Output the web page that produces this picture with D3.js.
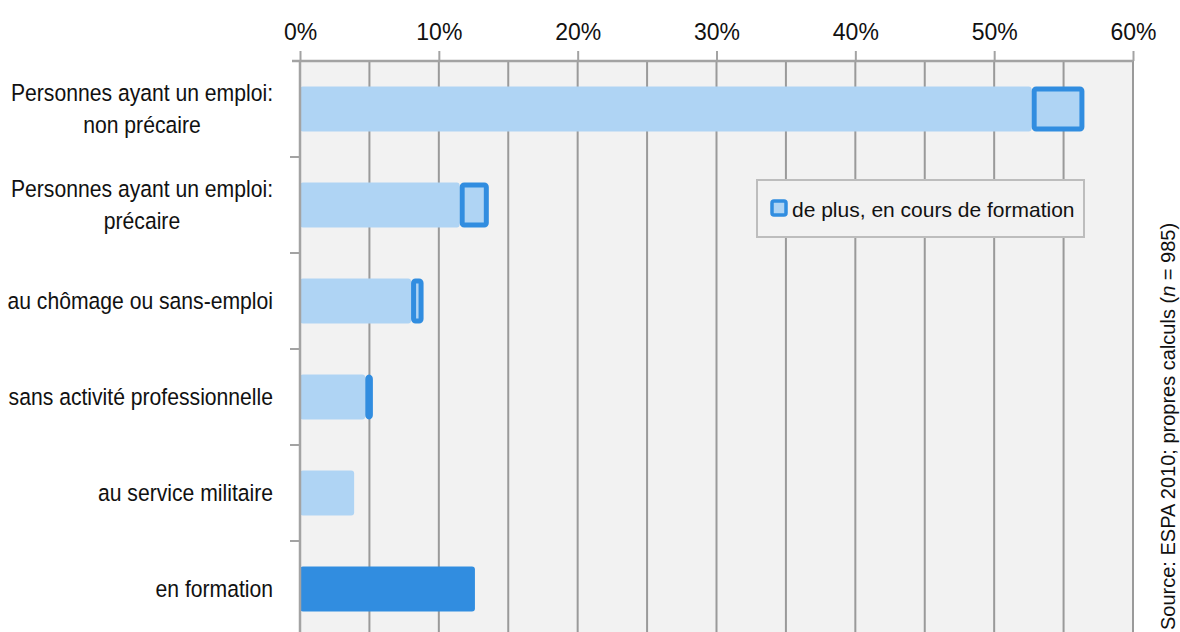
<!DOCTYPE html>
<html>
<head>
<meta charset="utf-8">
<script src="https://cdn.jsdelivr.net/npm/d3@7"></script>
<style>
  body { margin: 0; background: #fff; }
  text { font-family: "Liberation Sans", Arial, sans-serif; fill: #111; }
</style>
</head>
<body>
<div id="chart"></div>
<script>
// categories (each entry = lines of the label)
const categories = [
    ["Personnes ayant un emploi:", "non précaire"],
    ["Personnes ayant un emploi:", "précaire"],
    ["au chômage ou sans-emploi"],
    ["sans activité professionnelle"],
    ["au service militaire"],
    ["en formation"]
];
// share of respondents (%)
const baseValues = [52.7, 11.5, 8.0, 4.7, 3.9, 0];
// "de plus, en cours de formation" (%)
const trainingValues = [3.8, 2.1, 0.9, 0.55, 0, 0];
// "en formation" (%)
const formationValues = [0, 0, 0, 0, 0, 12.6];
const xTicks = [0, 10, 20, 30, 40, 50, 60];
const gridTicks = [5, 10, 15, 20, 25, 30, 35, 40, 45, 50, 55, 60];
const legendLabel = "de plus, en cours de formation";

const svgAttr = { width: 1180, height: 632 };
const plot = { left: 300, right: 1133, top: 61, bottom: 637 };
const colors = {
    light: "#afd4f4",
    dark: "#318de0",
    plotBg: "#f2f2f2",
    grid: "#9a9a9a",
    axis: "#a3a3a3"
};
const boxStroke = 5;

const svg = d3.select("#chart")
    .append("svg")
    .attr("width", svgAttr.width)
    .attr("height", svgAttr.height);

const x = d3.scaleLinear().domain([0, 60]).range([plot.left, plot.right]);
const y = d3.scaleBand()
    .domain(d3.range(categories.length))
    .range([plot.top, plot.bottom])
    .paddingInner(0.53)
    .paddingOuter(0.265);

// plot background
svg.append("rect")
    .attr("x", plot.left).attr("y", plot.top)
    .attr("width", plot.right - plot.left)
    .attr("height", plot.bottom - plot.top)
    .attr("fill", colors.plotBg);

// vertical gridlines every 5%
svg.append("g")
    .selectAll("line")
    .data(gridTicks)
    .join("line")
    .attr("x1", d => x(d)).attr("x2", d => x(d))
    .attr("y1", plot.top).attr("y2", plot.bottom)
    .attr("stroke", colors.grid)
    .attr("stroke-width", 2);

// bars
const bars = svg.append("g");
bars.selectAll("rect.base")
    .data(baseValues)
    .join("rect")
    .attr("class", "base")
    .attr("x", x(0))
    .attr("y", (d, i) => y(i))
    .attr("width", d => x(d) - x(0))
    .attr("height", y.bandwidth())
    .attr("rx", 3)
    .attr("fill", colors.light);

bars.selectAll("rect.training")
    .data(trainingValues.map((v, i) => ({ v, i })).filter(d => d.v > 0))
    .join("rect")
    .attr("class", "training")
    .attr("x", d => x(baseValues[d.i]) + boxStroke / 2)
    .attr("y", d => y(d.i) + boxStroke / 2)
    .attr("width", d => Math.max(0, x(baseValues[d.i] + d.v) - x(baseValues[d.i]) - boxStroke))
    .attr("height", y.bandwidth() - boxStroke)
    .attr("rx", 2)
    .attr("fill", colors.light)
    .attr("stroke", colors.dark)
    .attr("stroke-width", boxStroke)
    .attr("stroke-linejoin", "round");

bars.selectAll("rect.formation")
    .data(formationValues.map((v, i) => ({ v, i })).filter(d => d.v > 0))
    .join("rect")
    .attr("class", "formation")
    .attr("x", x(0))
    .attr("y", d => y(d.i))
    .attr("width", d => x(d.v) - x(0))
    .attr("height", y.bandwidth())
    .attr("rx", 3)
    .attr("fill", colors.dark);

// top axis
const xAxis = svg.append("g")
    .attr("transform", `translate(0,${plot.top})`)
    .call(d3.axisTop(x).tickValues(xTicks).tickFormat(d => d + "%").tickSize(10).tickPadding(11.5));
xAxis.select(".domain").attr("stroke", colors.axis).attr("stroke-width", 2.5)
    .attr("d", `M${plot.left - 8},0H${plot.right}`);
xAxis.selectAll(".tick line").attr("stroke", colors.axis).attr("stroke-width", 2);
xAxis.selectAll(".tick text")
    .style("font-size", "23px")
    .attr("fill", "#111");

// left axis line with ticks at category boundaries
svg.append("line")
    .attr("x1", plot.left).attr("x2", plot.left)
    .attr("y1", plot.top).attr("y2", plot.bottom)
    .attr("stroke", colors.axis).attr("stroke-width", 2.5);
svg.append("g")
    .selectAll("line")
    .data(d3.range(1, categories.length))
    .join("line")
    .attr("x1", plot.left - 10).attr("x2", plot.left)
    .attr("y1", i => y(i) - y.step() * y.paddingInner() / 2)
    .attr("y2", i => y(i) - y.step() * y.paddingInner() / 2)
    .attr("stroke", colors.axis).attr("stroke-width", 2);

// category labels (right aligned block, lines centered)
const labelRight = 273;
const lineH = 32;
categories.forEach((lines, i) => {
    const cy = y(i) + y.bandwidth() / 2;
    const g = svg.append("g")
        .attr("transform", `translate(${labelRight},0) scale(0.9,1)`);
    const texts = lines.map((ln, k) => g.append("text")
        .attr("y", cy + 8 + (k - (lines.length - 1) / 2) * lineH)
        .style("font-size", "23.5px")
        .text(ln));
    const maxW = d3.max(texts, t => t.node().getComputedTextLength());
    texts.forEach(t => t.attr("x", -maxW / 2).attr("text-anchor", "middle"));
});

// legend
const legend = svg.append("g").attr("transform", "translate(757,180)");
legend.append("rect")
    .attr("width", 327).attr("height", 57)
    .attr("fill", colors.plotBg)
    .attr("stroke", "#bdbdbd").attr("stroke-width", 2);
legend.append("rect")
    .attr("x", 15).attr("y", 21)
    .attr("width", 14).attr("height", 14)
    .attr("rx", 2)
    .attr("fill", colors.light)
    .attr("stroke", colors.dark).attr("stroke-width", 3.5);
legend.append("text")
    .attr("x", 35).attr("y", 37)
    .style("font-size", "21px")
    .text(legendLabel);

// source note
const src = svg.append("text")
    .attr("transform", "translate(1175,630) rotate(-90)")
    .attr("text-anchor", "start")
    .style("font-size", "20px");
src.append("tspan").text("Source: ESPA 2010; propres calculs (");
src.append("tspan").style("font-style", "italic").text("n");
src.append("tspan").text(" = 985)");
</script>
</body>
</html>
